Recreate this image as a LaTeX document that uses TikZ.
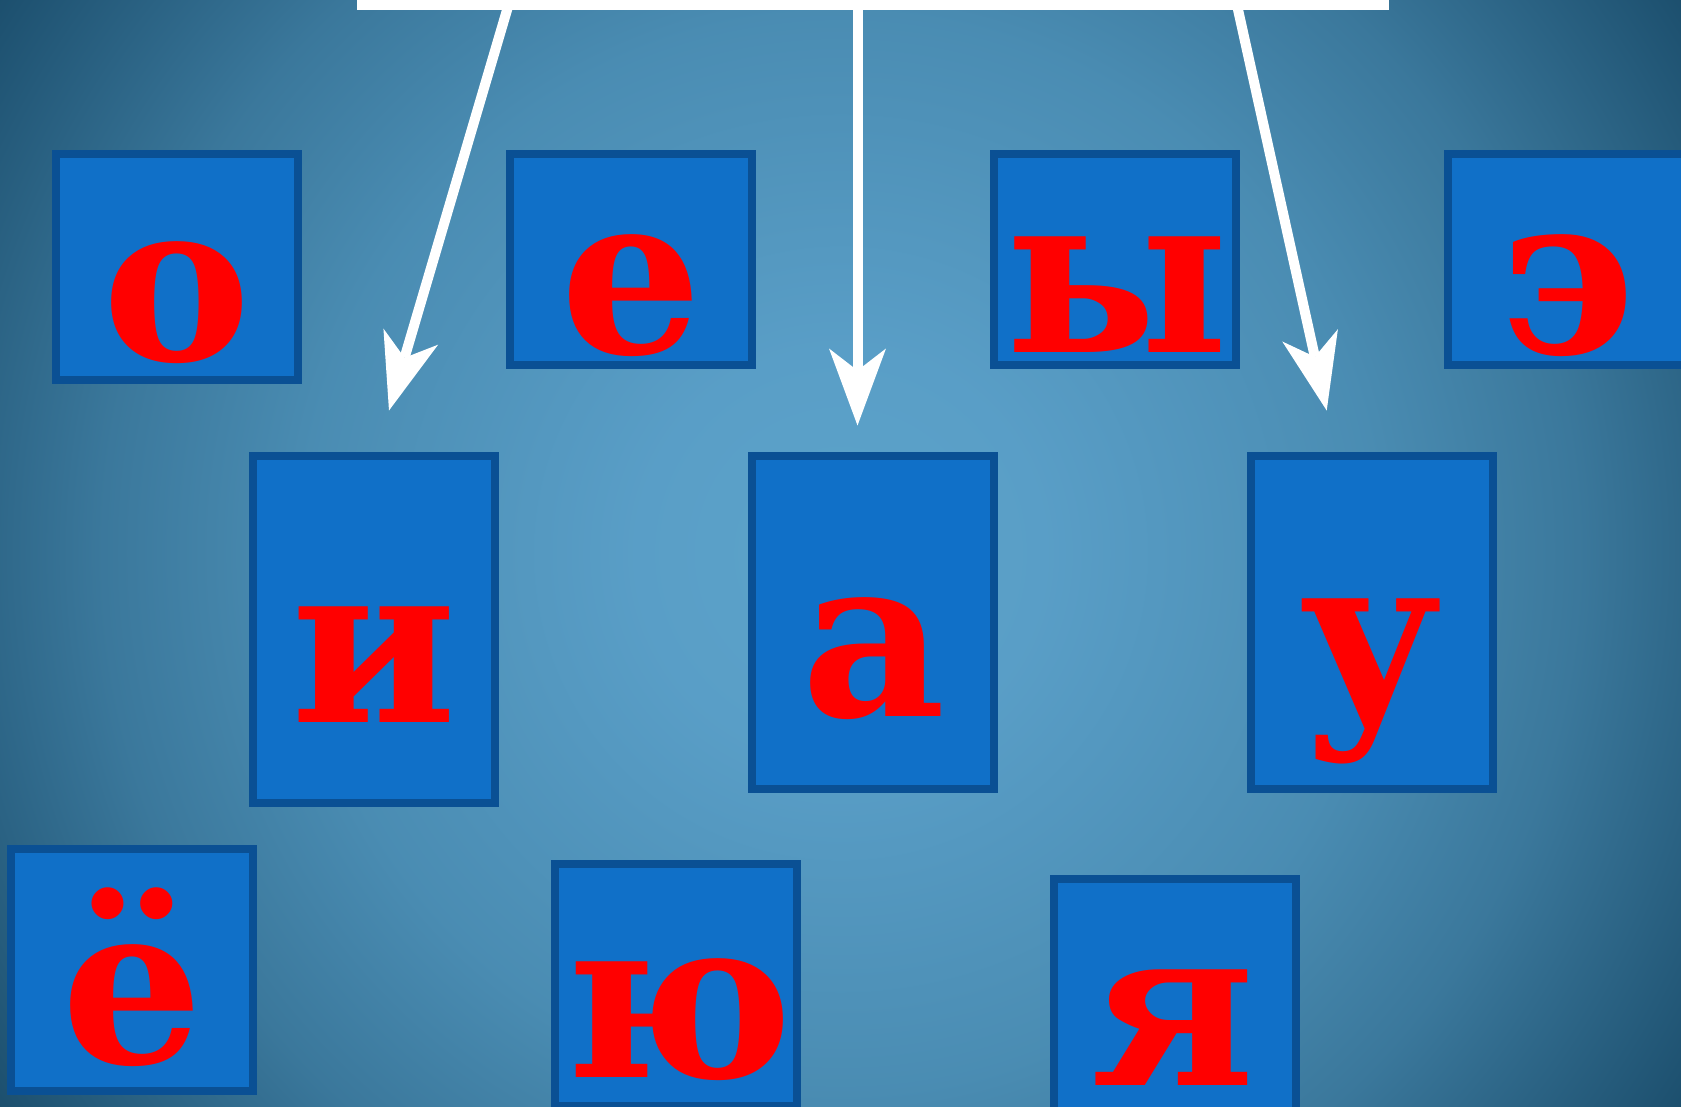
\documentclass[tikz,border=0pt]{standalone}
\usepackage{fontspec}
\setmainfont{DejaVu Serif}
\usetikzlibrary{arrows.meta}
\definecolor{boxfill}{RGB}{16,112,200}
\definecolor{boxline}{RGB}{10,80,148}
\definecolor{letterred}{RGB}{255,0,0}
\pgfdeclareradialshading{bgshade}{\pgfpoint{0bp}{0bp}}{rgb(0bp)=(0.36,0.64,0.79); rgb(6bp)=(0.35,0.62,0.78); rgb(16bp)=(0.29,0.55,0.70); rgb(22bp)=(0.23,0.47,0.61); rgb(30bp)=(0.11,0.31,0.43); rgb(50bp)=(0.10,0.28,0.40)}
\begin{document}
\begin{tikzpicture}[x=1pt,y=-1pt,
  tile/.style={draw=boxline, fill=boxfill, line width=8pt, rectangle, inner sep=0pt, minimum width=242pt},
  glyph/.style={text=letterred, font=\fontsize{223}{223}\selectfont\bfseries, anchor=base, inner sep=0pt},
  wire/.style={draw=white, line width=10pt},
  pointer/.style={wire, -{Stealth[length=77pt,width=57pt,inset=22pt,line width=0pt]}}
]
\useasboundingbox (0,0) rectangle (1681,1106);
\clip (0,0) rectangle (1681,1106);
\fill[shading=bgshade] (0,-287.5) rectangle (1681,1393.5);

% boxes
\node[tile, minimum height=225.7pt] (bo) at (177.4,266.9) {};
\node[tile, minimum height=211pt] (be) at (631,259.5) {};
\node[tile, minimum height=211pt] (by) at (1115,259.5) {};
\node[tile, minimum height=211pt] (bE) at (1569,259.5) {};
\node[tile, minimum height=347pt] (bi) at (374,629.5) {};
\node[tile, minimum height=332.7pt] (ba) at (873,622.3) {};
\node[tile, minimum height=332.7pt] (bu) at (1372,622.3) {};
\node[tile, minimum height=242pt] (byo) at (132.2,970) {};
\node[tile, minimum height=242pt] (byu) at (676.3,985.2) {};
\node[tile, minimum height=242pt] (bya) at (1175.2,1000.3) {};

% letters
\node[glyph] (lo) at (177,360) {о};
\node[glyph] (le) at (631,353) {е};
\node[glyph] (ly) at (1117,352) {ы};
\node[glyph] (lE) at (1568.5,353) {э};
\node[glyph] (li) at (373.7,722.3) {и};
\node[glyph] (la) at (874,716) {а};
\node[glyph] (lu) at (1371,714.4) {у};
\node[glyph] (lyo) at (132.7,1063.5) {ё};
\node[glyph] (lyu) at (679,1077.7) {ю};
\node[glyph] (lya) at (1173,1085.7) {я};

% bar and arrows
\coordinate (barL) at (357,5);
\coordinate (barR) at (1389,5);
\coordinate (s1) at (508.5,5);
\coordinate (t1) at (389,410.5);
\coordinate (s2) at (857.5,5);
\coordinate (t2) at (857.5,425.5);
\coordinate (s3) at (1237,5);
\coordinate (t3) at (1326.7,410.5);
\draw[wire] (barL) -- (barR);
\draw[pointer] (s1) -- (t1);
\draw[pointer] (s2) -- (t2);
\draw[pointer] (s3) -- (t3);
\end{tikzpicture}
\end{document}
